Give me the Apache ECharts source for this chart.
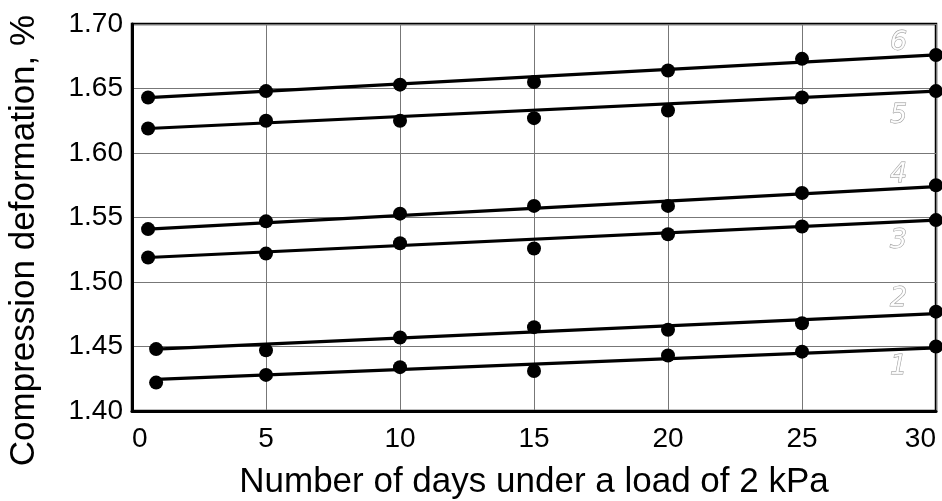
<!DOCTYPE html>
<html>
<head>
<meta charset="utf-8">
<script src="https://cdn.jsdelivr.net/npm/echarts@6/dist/echarts.min.js"></script>
<style>
	html, body { margin: 0; padding: 0; background: #fff; }
	#chart { width: 942px; height: 501px; }
</style>
</head>
<body>
<div id="chart"></div>
<script>
// measured points (days, compression deformation %)
var days = [0.6, 5, 10, 15, 20, 25, 30];
var days12 = [0.9, 5, 10, 15, 20, 25, 30];
var curve1 = [1.422, 1.428, 1.434, 1.431, 1.443, 1.446, 1.450];
var curve2 = [1.448, 1.447, 1.457, 1.465, 1.463, 1.468, 1.477];
var curve3 = [1.519, 1.522, 1.530, 1.526, 1.537, 1.543, 1.548];
var curve4 = [1.541, 1.547, 1.553, 1.559, 1.559, 1.569, 1.575];
var curve5 = [1.619, 1.625, 1.625, 1.627, 1.633, 1.643, 1.648];
var curve6 = [1.643, 1.648, 1.653, 1.655, 1.664, 1.673, 1.676];
// straight fitted lines: [startDay, startVal, endDay, endVal]
var fit1 = [0.9, 1.4245, 30, 1.449];
var fit2 = [0.9, 1.448, 30, 1.4755];
var fit3 = [0.6, 1.519, 30, 1.548];
var fit4 = [0.6, 1.541, 30, 1.574];
var fit5 = [0.6, 1.619, 30, 1.648];
var fit6 = [0.6, 1.643, 30, 1.676];
// curve numbers and where they sit
var curveNames = ['1', '2', '3', '4', '5', '6'];
var labelAt = [[28.6, 1.434], [28.6, 1.487], [28.6, 1.532], [28.6, 1.583], [28.6, 1.629], [28.6, 1.685]];
var xTicks = [0, 5, 10, 15, 20, 25, 30];
var yTicks = [1.40, 1.45, 1.50, 1.55, 1.60, 1.65, 1.70];

var chartDom = document.getElementById('chart');
var myChart = echarts.init(chartDom);

var curves = [curve1, curve2, curve3, curve4, curve5, curve6];
var fits = [fit1, fit2, fit3, fit4, fit5, fit6];
var series = [];

for (var i = 0; i < curves.length; i++) {
	var xs = i < 2 ? days12 : days;
	var pts = [];
	for (var j = 0; j < xs.length; j++) {
		pts.push([xs[j], curves[i][j]]);
	}
	//拟合直线
	series.push({
		type: 'line',
		data: [[fits[i][0], fits[i][1]], [fits[i][2], fits[i][3]]],
		showSymbol: false,
		lineStyle: { color: '#000', width: 3.2 },
		silent: true,
		z: 3
	});
	//实测点
	series.push({
		type: 'scatter',
		data: pts,
		symbol: 'circle',
		symbolSize: 14,
		itemStyle: { color: '#000', opacity: 1 },
		z: 4
	});
}

//曲线编号
var labelData = [];
for (var k = 0; k < labelAt.length; k++) {
	labelData.push({ value: labelAt[k], name: curveNames[k] });
}
series.push({
	type: 'scatter',
	data: labelData,
	symbolSize: 0,
	silent: true,
	label: {
		show: true,
		position: 'inside',
		formatter: '{b}',
		fontFamily: 'DejaVu Sans',
		fontStyle: 'italic',
		fontWeight: 'lighter',
		fontSize: 27,
		color: '#fff',
		textBorderColor: '#777',
		textBorderWidth: 0.9
	},
	z: 5
});

var option = {
	animation: false,
	backgroundColor: '#fff',
	grid: {
		left: 132,
		right: 6,
		top: 24,
		bottom: 90,
		outerBoundsMode: 'none',
		containLabel: false,
		show: true,
		borderColor: '#000',
		borderWidth: 2.5,
		backgroundColor: 'transparent'
	},
	xAxis: {
		type: 'value',
		min: xTicks[0],
		max: xTicks[xTicks.length - 1],
		interval: 5,
		name: 'Number of days under a load of 2 kPa',
		nameLocation: 'middle',
		nameGap: 54,
		nameTextStyle: { fontFamily: 'Liberation Sans', fontSize: 35, color: '#000' },
		axisLine: { lineStyle: { color: '#000', width: 3 } },
		axisTick: { show: false },
		axisLabel: {
			fontFamily: 'Liberation Sans',
			fontSize: 28,
			color: '#000',
			margin: 14,
			alignMinLabel: 'left',
			alignMaxLabel: 'right'
		},
		splitLine: { show: true, lineStyle: { color: '#777', width: 1 } }
	},
	yAxis: {
		type: 'value',
		min: yTicks[0],
		max: yTicks[yTicks.length - 1],
		interval: 0.05,
		name: 'Compression deformation, %',
		nameLocation: 'middle',
		nameGap: 90,
		nameRotate: 90,
		nameTextStyle: {
			fontFamily: 'Liberation Sans',
			fontSize: 35,
			color: '#000',
			padding: [0, 46, 0, 0]
		},
		axisLine: { show: true, lineStyle: { color: '#000', width: 3 } },
		axisTick: { show: false },
		axisLabel: {
			fontFamily: 'Liberation Sans',
			fontSize: 28,
			color: '#000',
			margin: 9,
			formatter: function(v) { return v.toFixed(2); }
		},
		splitLine: { show: true, lineStyle: { color: '#777', width: 1 } }
	},
	series: series
};
myChart.setOption(option, true);
</script>
</body>
</html>
